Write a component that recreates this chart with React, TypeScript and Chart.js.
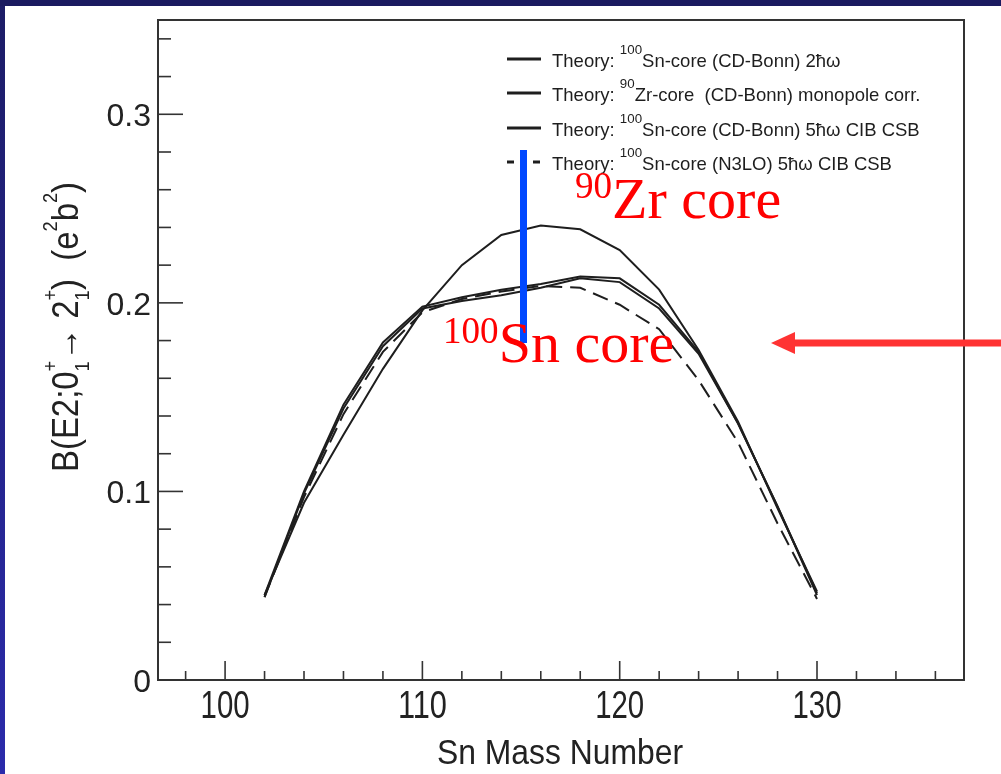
import React, { useEffect, useRef } from 'react';
import Chart from 'chart.js/auto';

// ---- data ----
const massNumbers = [102, 104, 106, 108, 110, 112, 114, 116, 118, 120, 122, 124, 126, 128, 130];
const snCore2hw = [0.045, 0.100, 0.146, 0.179, 0.198, 0.203, 0.207, 0.210, 0.214, 0.213, 0.199, 0.174, 0.136, 0.092, 0.046];
const zrCoreMonopole = [0.045, 0.094, 0.130, 0.165, 0.196, 0.220, 0.236, 0.241, 0.239, 0.228, 0.207, 0.175, 0.137, 0.091, 0.047];
const snCore5hwCib = [0.044, 0.099, 0.144, 0.177, 0.197, 0.201, 0.204, 0.208, 0.213, 0.211, 0.197, 0.173, 0.136, 0.092, 0.045];
const snCoreN3lo = [0.044, 0.097, 0.141, 0.174, 0.195, 0.202, 0.206, 0.209, 0.208, 0.199, 0.186, 0.159, 0.126, 0.083, 0.043];

const seriesLabels = [
  'Theory: ^{100}Sn-core (CD-Bonn) 2ħω',
  'Theory: ^{90}Zr-core  (CD-Bonn) monopole corr.',
  'Theory: ^{100}Sn-core (CD-Bonn) 5ħω CIB CSB',
  'Theory: ^{100}Sn-core (N3LO) 5ħω CIB CSB',
];
const seriesDashes = [[], [], [], [16, 8]];

const xTickLabels = [100, 110, 120, 130];
const yTickLabels = [0, 0.1, 0.2, 0.3];
const xMinorStep = 2;
const yMinorStep = 0.02;
const xTitle = 'Sn Mass Number';
const yTitle = 'B(E2;0^{+}_{1}→ 2^{+}_{1})  (e^{2}b^{2})';
const zrNote = '^{90}Zr core';
const snNote = '^{100}Sn core';

type Seg = { t: string; m: 'n' | 'sup' | 'sub' };
function parseRich(s: string): Seg[] {
  const out: Seg[] = [];
  let i = 0;
  let buf = '';
  while (i < s.length) {
    const c = s[i];
    if ((c === '^' || c === '_') && s[i + 1] === '{') {
      if (buf) { out.push({ t: buf, m: 'n' }); buf = ''; }
      const end = s.indexOf('}', i);
      out.push({ t: s.slice(i + 2, end), m: c === '^' ? 'sup' : 'sub' });
      i = end + 1;
    } else { buf += c; i++; }
  }
  if (buf) out.push({ t: buf, m: 'n' });
  return out;
}

type RichOpt = { family: string; size: number; supScale: number; supRaise: number; subScale: number; subDrop: number };
function layoutRich(ctx: CanvasRenderingContext2D, s: string, o: RichOpt) {
  const segs = parseRich(s);
  const items: { t: string; x: number; dy: number; font: string }[] = [];
  let x = 0;
  let i = 0;
  while (i < segs.length) {
    const sg = segs[i];
    if (sg.m === 'n') {
      const font = `${o.size}px ${o.family}`;
      ctx.font = font;
      items.push({ t: sg.t, x, dy: 0, font });
      x += ctx.measureText(sg.t).width;
      i++;
    } else {
      // group consecutive sup/sub
      let adv = 0;
      while (i < segs.length && segs[i].m !== 'n') {
        const g = segs[i];
        const sz = o.size * (g.m === 'sup' ? o.supScale : o.subScale);
        const font = `${sz}px ${o.family}`;
        ctx.font = font;
        items.push({ t: g.t, x, dy: g.m === 'sup' ? -o.supRaise * o.size : o.subDrop * o.size, font });
        adv = Math.max(adv, ctx.measureText(g.t).width);
        i++;
      }
      x += adv;
    }
  }
  return { items, width: x };
}
function drawRich(ctx: CanvasRenderingContext2D, s: string, x: number, y: number, o: RichOpt, align: 'left' | 'center', targetWidth?: number) {
  const L = layoutRich(ctx, s, o);
  const sx = targetWidth ? targetWidth / L.width : 1;
  const w = L.width * sx;
  ctx.save();
  ctx.translate(align === 'center' ? x - w / 2 : x, y);
  ctx.scale(sx, 1);
  ctx.textAlign = 'left';
  ctx.textBaseline = 'alphabetic';
  for (const it of L.items) {
    ctx.font = it.font;
    ctx.fillText(it.t, it.x, it.dy);
  }
  ctx.restore();
}

const SANS = '"Liberation Sans", Arial, Helvetica, sans-serif';
const SERIF = '"Liberation Serif", "Times New Roman", serif';

const slidePlugin = {
  id: 'slide',
  beforeDraw(chart: any) {
    const { ctx, width, height } = chart;
    ctx.save();
    ctx.fillStyle = '#ffffff';
    ctx.fillRect(0, 0, width, height);
    const g = ctx.createLinearGradient(0, 0, 0, height);
    g.addColorStop(0, '#1c1c66');
    g.addColorStop(1, '#2b2bab');
    ctx.fillStyle = g;
    ctx.fillRect(0, 0, 5, height);
    ctx.fillStyle = '#1a1a60';
    ctx.fillRect(0, 0, width, 6);
    ctx.restore();
  },
};

const rootAxesPlugin = {
  id: 'rootAxes',
  afterDatasetsDraw(chart: any) {
    const { ctx, chartArea: a, scales } = chart;
    const xs = scales.x;
    const ys = scales.y;
    ctx.save();
    ctx.strokeStyle = '#333333';
    ctx.lineWidth = 2;
    ctx.strokeRect(a.left, a.top, a.right - a.left, a.bottom - a.top);
    ctx.lineWidth = 1.6;
    // x ticks (inward)
    const x0 = Math.ceil(xs.min / xMinorStep) * xMinorStep;
    for (let v = x0; v <= xs.max; v += xMinorStep) {
      const px = xs.getPixelForValue(v);
      const major = v % 10 === 0;
      ctx.beginPath();
      ctx.moveTo(px, a.bottom);
      ctx.lineTo(px, a.bottom - (major ? 19 : 9));
      ctx.stroke();
    }
    // y ticks (inward)
    for (let k = 0; k * yMinorStep <= ys.max + 1e-9; k++) {
      const v = k * yMinorStep;
      const py = ys.getPixelForValue(v);
      const major = k % 5 === 0;
      ctx.beginPath();
      ctx.moveTo(a.left, py);
      ctx.lineTo(a.left + (major ? 25 : 13), py);
      ctx.stroke();
    }
    // tick labels
    ctx.fillStyle = '#222222';
    ctx.font = `32px ${SANS}`;
    ctx.textAlign = 'right';
    ctx.textBaseline = 'alphabetic';
    for (const v of yTickLabels) {
      const py = ys.getPixelForValue(v);
      ctx.fillText(v === 0 ? '0' : v.toFixed(1), 151, py + 12);
    }
    for (const v of xTickLabels) {
      const px = xs.getPixelForValue(v);
      const o: RichOpt = { family: SANS, size: 39, supScale: 0.6, supRaise: 0.5, subScale: 0.6, subDrop: 0.25 };
      drawRich(ctx, String(v), px, 718, o, 'center', 49);
    }
    // axis titles
    drawRich(ctx, xTitle, 560, 764, { family: SANS, size: 35, supScale: 0.6, supRaise: 0.5, subScale: 0.6, subDrop: 0.25 }, 'center', 246);
    ctx.save();
    ctx.translate(78, 327);
    ctx.rotate(-Math.PI / 2);
    drawRich(ctx, yTitle, 0, 0, { family: SANS, size: 37, supScale: 0.55, supRaise: 0.58, subScale: 0.55, subDrop: 0.3 }, 'center', 290);
    ctx.restore();

    // legend
    const rows = [59, 93, 128, 162];
    seriesLabels.forEach((lab, i) => {
      const y = rows[i];
      ctx.save();
      ctx.strokeStyle = '#1e1e1e';
      ctx.lineWidth = 3;
      ctx.setLineDash(i === 3 ? [7, 6] : []);
      ctx.beginPath();
      ctx.moveTo(507, y);
      ctx.lineTo(541, y);
      ctx.stroke();
      ctx.restore();
      ctx.fillStyle = '#1e1e1e';
      drawRich(ctx, lab, 552, y + 8, { family: SANS, size: 18.5, supScale: 0.72, supRaise: 0.72, subScale: 0.6, subDrop: 0.25 }, 'left');
    });

    // annotations
    ctx.fillStyle = '#0048ff';
    ctx.fillRect(520, 150, 7, 193);
    ctx.fillStyle = '#ff0000';
    drawRich(ctx, zrNote, 575, 218, { family: SERIF, size: 58, supScale: 0.64, supRaise: 0.35, subScale: 0.6, subDrop: 0.25 }, 'left');
    drawRich(ctx, snNote, 443, 362, { family: SERIF, size: 58, supScale: 0.64, supRaise: 0.33, subScale: 0.6, subDrop: 0.25 }, 'left');
    // arrow
    ctx.fillStyle = '#ff3333';
    ctx.fillRect(792, 339.5, 1001 - 792, 7);
    ctx.beginPath();
    ctx.moveTo(771, 343);
    ctx.lineTo(795, 332);
    ctx.lineTo(795, 354);
    ctx.closePath();
    ctx.fill();
    ctx.restore();
  },
};

export default function App() {
  const ref = useRef<HTMLCanvasElement>(null);
  useEffect(() => {
    const canvas = ref.current;
    if (!canvas) return;
    const series = [snCore2hw, zrCoreMonopole, snCore5hwCib, snCoreN3lo];
    const chart = new Chart(canvas, {
      type: 'line',
      data: {
        datasets: series.map((vals, i) => ({
          label: seriesLabels[i],
          data: massNumbers.map((m, j) => ({ x: m, y: vals[j] })),
          borderColor: '#1e1e1e',
          borderWidth: 2,
          borderDash: seriesDashes[i],
          pointRadius: 0,
          fill: false,
          tension: 0,
        })),
      },
      options: {
        responsive: false,
        animation: false,
        devicePixelRatio: 1,
        layout: { padding: { left: 158, top: 20, right: 37, bottom: 94 } },
        plugins: { legend: { display: false }, tooltip: { enabled: false } },
        scales: {
          x: { type: 'linear', min: 96.6, max: 137.45, display: false },
          y: { type: 'linear', min: 0, max: 0.35, display: false },
        },
      },
      plugins: [slidePlugin, rootAxesPlugin],
    } as any);
    return () => chart.destroy();
  }, []);
  return (
    <div style={{ position: 'fixed', left: 0, top: 0, width: 1001, height: 774 }}>
      <canvas ref={ref} width={1001} height={774} style={{ display: 'block', width: 1001, height: 774 }} />
    </div>
  );
}
